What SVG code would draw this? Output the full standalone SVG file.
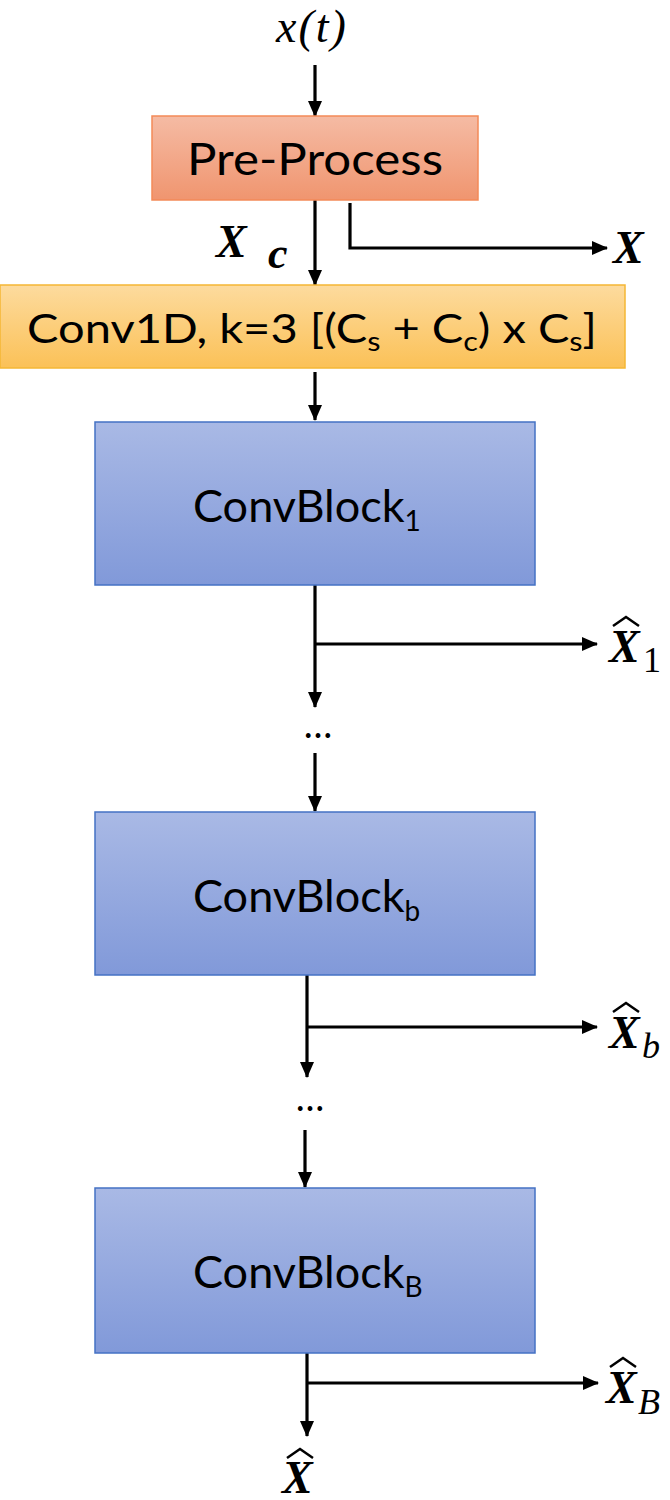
<svg xmlns="http://www.w3.org/2000/svg" width="670" height="1500" viewBox="0 0 670 1500">
<defs>
<linearGradient id="gPre" x1="0" y1="0" x2="0" y2="1"><stop offset="0" stop-color="#f5bba4"/><stop offset="1" stop-color="#f0956f"/></linearGradient>
<linearGradient id="gConv" x1="0" y1="0" x2="0" y2="1"><stop offset="0" stop-color="#fddb9e"/><stop offset="1" stop-color="#fbc157"/></linearGradient>
<linearGradient id="gBlk" x1="0" y1="0" x2="0" y2="1"><stop offset="0" stop-color="#a9b9e5"/><stop offset="1" stop-color="#8199d9"/></linearGradient>
<marker id="ah" markerWidth="16" markerHeight="14" refX="15" refY="7" orient="auto" markerUnits="userSpaceOnUse" viewBox="0 0 16 14">
<path d="M0,0 L16,7 L0,14 z" fill="#000"/>
</marker>
<style>
.lbl{font-family:Lato,"Open Sans","Liberation Sans",sans-serif;fill:#000;}
.math{font-family:"Liberation Serif","DejaVu Serif",serif;fill:#000;}
.mb{font-family:"Liberation Serif","DejaVu Serif",serif;font-weight:bold;font-style:italic;fill:#000;}
.conn{stroke:#000;stroke-width:3.2;fill:none;}
.hat{stroke:#000;stroke-width:2.5;fill:none;}
</style>
</defs>
<rect width="670" height="1500" fill="#fff"/>

<g id="connectors">
<path class="conn" d="M315,65 V116" marker-end="url(#ah)"/>
<path class="conn" d="M315,200 V285" marker-end="url(#ah)"/>
<path class="conn" d="M350,203 V248 H607" marker-end="url(#ah)"/>
<path class="conn" d="M315,372 V420" marker-end="url(#ah)"/>
<path class="conn" d="M315,585 V707" marker-end="url(#ah)"/>
<path class="conn" d="M315,644 H597" marker-end="url(#ah)"/>
<path class="conn" d="M315,753 V811" marker-end="url(#ah)"/>
<path class="conn" d="M307,975 V1077" marker-end="url(#ah)"/>
<path class="conn" d="M307,1027 H597" marker-end="url(#ah)"/>
<path class="conn" d="M305,1130 V1187" marker-end="url(#ah)"/>
<path class="conn" d="M307,1353 V1436" marker-end="url(#ah)"/>
<path class="conn" d="M307,1383 H598" marker-end="url(#ah)"/>
</g>

<g id="input">
<text class="math" x="312" y="42" font-size="46" font-style="italic" text-anchor="middle" letter-spacing="2">x(t)</text>
</g>

<g id="preprocess">
<rect x="152" y="116" width="326" height="84" fill="url(#gPre)" stroke="#f38a58" stroke-width="1.5"/>
<text class="lbl" x="315" y="175" font-size="44" text-anchor="middle" textLength="256" lengthAdjust="spacingAndGlyphs">Pre-Process</text>
</g>

<g id="label-xc">
<text class="mb" x="216" y="257" font-size="46">X</text>
<text class="mb" x="268" y="268" font-size="44">c</text>
</g>

<g id="label-x">
<text class="mb" x="613" y="263" font-size="46">X</text>
</g>

<g id="conv1d">
<rect x="0" y="285" width="625" height="83" fill="url(#gConv)" stroke="#f5b735" stroke-width="1.5"/>
<text class="lbl" x="27" y="343" font-size="40" textLength="570" lengthAdjust="spacingAndGlyphs">Conv1D, k=3 [(C<tspan font-size="26" dy="8">s</tspan><tspan dy="-8"> + C</tspan><tspan font-size="26" dy="8">c</tspan><tspan dy="-8">) x C</tspan><tspan font-size="26" dy="8">s</tspan><tspan dy="-8">]</tspan></text>
</g>

<g id="convblock1">
<rect x="95" y="422" width="440" height="163" fill="url(#gBlk)" stroke="#4472c4" stroke-width="1.5"/>
<text class="lbl" x="193" y="522" font-size="45">ConvBlock<tspan font-size="28" dy="9">1</tspan></text>
</g>

<g id="out1">
<path class="hat" d="M613,626 L626,617 L639,626"/>
<text class="mb" x="609" y="662" font-size="46">X</text>
<text class="math" x="643" y="672" font-size="36">1</text>
</g>

<g id="dots1"><text class="lbl" x="318" y="738" font-size="38" text-anchor="middle">…</text></g>

<g id="convblockb">
<rect x="95" y="812" width="440" height="163" fill="url(#gBlk)" stroke="#4472c4" stroke-width="1.5"/>
<text class="lbl" x="193" y="912" font-size="45">ConvBlock<tspan font-size="28" dy="9">b</tspan></text>
</g>

<g id="outb">
<path class="hat" d="M613,1012 L626,1003 L639,1012"/>
<text class="mb" x="609" y="1048" font-size="46">X</text>
<text class="math" x="642" y="1058" font-size="36" font-style="italic">b</text>
</g>

<g id="dots2"><text class="lbl" x="310" y="1111" font-size="38" text-anchor="middle">…</text></g>

<g id="convblockB">
<rect x="95" y="1188" width="440" height="165" fill="url(#gBlk)" stroke="#4472c4" stroke-width="1.5"/>
<text class="lbl" x="193" y="1288" font-size="45">ConvBlock<tspan font-size="28" dy="9">B</tspan></text>
</g>

<g id="outB">
<path class="hat" d="M610,1367 L623,1358 L636,1367"/>
<text class="mb" x="606" y="1403" font-size="46">X</text>
<text class="math" x="638" y="1414" font-size="36" font-style="italic">B</text>
</g>

<g id="output">
<path class="hat" d="M287,1458 L300,1449 L313,1458"/>
<text class="mb" x="282" y="1493" font-size="46">X</text>
</g>
</svg>
